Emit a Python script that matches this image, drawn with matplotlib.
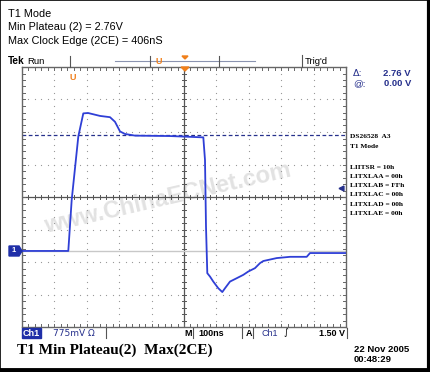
import matplotlib.pyplot as plt
from matplotlib.patches import Rectangle, Polygon

# trace: time (ns from left edge) and volts
t_ns = [0, 142.9, 153.4, 173.8, 189.2, 203.7, 240.7, 271.6, 287.0, 302.5, 317.9,
        348.8, 456.8, 554.6, 559.6, 564.8, 567.9, 571.9, 580.2, 590.4, 605.9,
        618.2, 626.5, 642.0, 662.7, 683.0, 698.5, 719.1, 734.6, 744.8, 786.1,
        827.2, 878.7, 888.9, 1000]
volts = [0.0, 0.0, 1.22, 2.73, 3.28, 3.29, 3.22, 3.19, 3.08, 2.85, 2.79,
         2.75, 2.74, 2.71, 2.71, 2.17, 0.58, -0.53, -0.61, -0.73, -0.89,
         -0.98, -0.89, -0.73, -0.65, -0.57, -0.49, -0.41, -0.29, -0.24, -0.17,
         -0.14, -0.14, -0.05, -0.05]

cursor_v = 2.76
trig_v = 1.50
volts_per_div = 0.775
ns_per_div = 100
ground_div = -1.66

header_lines = ["T1 Mode", "Min Plateau (2) = 2.76V", "Max Clock Edge (2CE) = 406nS"]
reg_lines = ["LIITSR = 10h", "LITXLAA = 00h", "LITXLAB = FFh",
             "LITXLAC = 00h", "LITXLAD = 00h", "LITXLAE = 00h"]

W, H = 430, 372
BLUE = "#2f3fd6"
NAVY = "#26308c"
ORANGE = "#f07f1a"


def px(x, y):
    return x / W, 1 - y / H


fig = plt.figure(figsize=(W / 100, H / 100), dpi=100)
fig.patch.set_facecolor("white")

x0, x1, y0, y1 = 22, 346, 67, 327
ax = fig.add_axes([x0 / W, 1 - y1 / H, (x1 - x0) / W, (y1 - y0) / H])
vc = -ground_div * volts_per_div
ax.set_xlim(0, 10 * ns_per_div)
ax.set_ylim(vc - 4 * volts_per_div, vc + 4 * volts_per_div)
ax.set_xticks([])
ax.set_yticks([])
for s in ax.spines.values():
    s.set_color("#666666")
    s.set_linewidth(1.0)

# dotted graticule
for i in range(1, 10):
    xs = i * ns_per_div
    if i == 5:
        continue
    ys = [vc + (k / 5 - 4) * volts_per_div for k in range(1, 40)]
    ax.plot([xs] * len(ys), ys, ls="none", marker="s", ms=0.8, color="#9a9a9a", mew=0)
for j in range(-3, 4):
    if j == 0:
        continue
    yv = vc + j * volts_per_div
    xs = [k * ns_per_div / 5 for k in range(1, 50)]
    ax.plot(xs, [yv] * len(xs), ls="none", marker="s", ms=0.8, color="#9a9a9a", mew=0)

# center cross with ticks
ax.axvline(5 * ns_per_div, color="#555555", lw=0.9)
ax.axhline(vc, color="#555555", lw=0.9)
tick_h = 0.06 * volts_per_div
tick_w = 0.06 * ns_per_div
for k in range(1, 50):
    xs = k * ns_per_div / 5
    ax.plot([xs, xs], [vc - tick_h, vc + tick_h], color="#555555", lw=0.7)
    ax.plot([xs, xs], [ax.get_ylim()[1], ax.get_ylim()[1] - 1.5 * tick_h], color="#666666", lw=0.7)
    ax.plot([xs, xs], [ax.get_ylim()[0], ax.get_ylim()[0] + 1.5 * tick_h], color="#666666", lw=0.7)
for k in range(1, 40):
    yv = vc + (k / 5 - 4) * volts_per_div
    ax.plot([500 - tick_w, 500 + tick_w], [yv, yv], color="#555555", lw=0.7)
    ax.plot([0, 1.5 * tick_w], [yv, yv], color="#666666", lw=0.7)
    ax.plot([1000, 1000 - 1.5 * tick_w], [yv, yv], color="#666666", lw=0.7)

# ground reference and cursor
ax.axhline(0, color="#c8c8c8", lw=1.0)
ax.axhline(cursor_v, color=NAVY, lw=0.9, ls=(0, (3, 2)))

ax.plot(t_ns, volts, color=BLUE, lw=1.3, zorder=5)

# trigger level marker
ax.plot([985], [trig_v], marker="<", ms=3.5, color=NAVY, clip_on=False)

# watermark
ax.text(450, 1.25, "www.ChinaECNet.com", rotation=13, ha="center", va="center",
        fontsize=17, fontweight="bold", color="#e2e2e2", family="Liberation Sans",
        zorder=1)

# header text
for i, line in enumerate(header_lines):
    fig.text(*px(8, 14 + i * 13.5), line, fontsize=7.8, family="Liberation Sans",
             va="center", ha="left")

fig.text(*px(8, 61), "Tek", fontsize=7.2, fontweight="bold", family="Liberation Sans",
         va="center")
fig.text(*px(27, 61), "Run", fontsize=6.8, family="Liberation Sans", va="center")
fig.add_artist(plt.Line2D([70 / W, 70 / W], [1 - 56 / H, 1 - 67 / H], color="#555555", lw=0.8))
fig.add_artist(plt.Line2D([115 / W, 255 / W], [1 - 61 / H, 1 - 61 / H], color="#8a93b0", lw=0.8))
for bx in (150, 219):
    fig.add_artist(plt.Line2D([bx / W, bx / W], [1 - 56 / H, 1 - 66 / H], color="#555555", lw=0.8))
fig.text(*px(159, 61), "U", fontsize=6.5, fontweight="bold", color=ORANGE,
         family="Liberation Sans", ha="center", va="center")
fig.add_artist(Polygon([px(182, 56), px(188, 56), px(185, 59)], closed=True,
                       color=ORANGE, transform=fig.transFigure))
fig.add_artist(Polygon([px(181, 67), px(189, 67), px(185, 71)], closed=True,
                       color=ORANGE, transform=fig.transFigure))
fig.text(*px(73, 78), "U", fontsize=6.5, fontweight="bold", color=ORANGE,
         family="Liberation Sans", ha="center", va="center")
fig.add_artist(plt.Line2D([302 / W, 302 / W], [1 - 55 / H, 1 - 67 / H], color="#555555", lw=0.8))
fig.text(*px(305, 61), "Trig'd", fontsize=6.8, family="Liberation Sans", va="center")

# cursor readouts
fig.text(*px(353, 73), "\u0394:", fontsize=6.8, color=NAVY, family="DejaVu Sans", va="center")
fig.text(*px(411, 73), "2.76 V", fontsize=6.8, color=NAVY, family="Liberation Sans",
         va="center", ha="right", fontweight="bold")
fig.text(*px(353, 84), "@:", fontsize=6.8, color=NAVY, family="Liberation Sans", va="center")
fig.text(*px(411, 84), "0.00 V", fontsize=6.8, color=NAVY, family="Liberation Sans",
         va="center", ha="right", fontweight="bold")

# register text block
fig.text(*px(350, 137), "DS26528  A3", fontsize=5.3, fontweight="bold",
         family="Liberation Serif", va="center")
fig.text(*px(350, 147), "T1 Mode", fontsize=5.3, fontweight="bold",
         family="Liberation Serif", va="center")
for i, line in enumerate(reg_lines):
    fig.text(*px(350, 167 + i * 9.3), line, fontsize=5.3, fontweight="bold",
             family="Liberation Serif", va="center")

# channel 1 ground marker
fig.add_artist(Polygon([px(9, 246), px(19, 246), px(22, 251), px(19, 256), px(9, 256)],
                       closed=True, color="#1f2fa8", transform=fig.transFigure))
fig.text(*px(14, 251), "1", fontsize=5.5, color="white", fontweight="bold",
         family="Liberation Sans", ha="center", va="center")

# status bar
fig.add_artist(Rectangle(px(22, 338), 19 / W, 10 / H, color="#1f2fa8",
                         transform=fig.transFigure))
fig.text(*px(31.5, 333), "Ch1", fontsize=6.5, color="white", fontweight="bold",
         family="Liberation Sans", ha="center", va="center")
fig.text(*px(53, 333), "775mV \u03a9", fontsize=6.5, color=NAVY,
         family="DejaVu Sans", va="center")
for sx in (106, 193, 242, 253, 347):
    fig.add_artist(plt.Line2D([sx / W, sx / W], [1 - 328 / H, 1 - 338 / H], color="#555555", lw=0.8))
fig.text(*px(192, 333), "M", fontsize=6.5, fontweight="bold", family="Liberation Sans",
         va="center", ha="right")
fig.text(*px(198, 333), "100ns", fontsize=6.5, fontweight="bold", family="Liberation Sans",
         va="center")
fig.text(*px(246, 333), "A", fontsize=6.5, fontweight="bold", family="Liberation Sans",
         va="center")
fig.text(*px(262, 333), "Ch1", fontsize=6.5, color=NAVY, family="Liberation Sans",
         va="center")
fig.text(*px(283, 333), "\u222b", fontsize=6.5, family="DejaVu Sans", va="center")
fig.text(*px(345, 333), "1.50 V", fontsize=6.5, fontweight="bold",
         family="Liberation Sans", va="center", ha="right")

# caption and timestamp
fig.text(*px(17, 350), "T1 Min Plateau(2)  Max(2CE)", fontsize=11.0, fontweight="bold",
         family="Liberation Serif", va="center")
fig.text(*px(354, 349), "22 Nov 2005", fontsize=6.8, fontweight="bold",
         family="Liberation Sans", va="center")
fig.text(*px(354, 360), "00:48:29", fontsize=6.8, fontweight="bold",
         family="Liberation Sans", va="center")

# outer frame
fig.add_artist(Rectangle((0, 0), 1, 1, fill=False, ec="black", lw=1.2,
                         transform=fig.transFigure))
fig.add_artist(plt.Line2D([1 - 1.5 / W, 1 - 1.5 / W], [0, 1], color="black", lw=3))
fig.add_artist(plt.Line2D([0, 1], [2 / H, 2 / H], color="black", lw=3.5))

fig.savefig("out.png", dpi=100)
